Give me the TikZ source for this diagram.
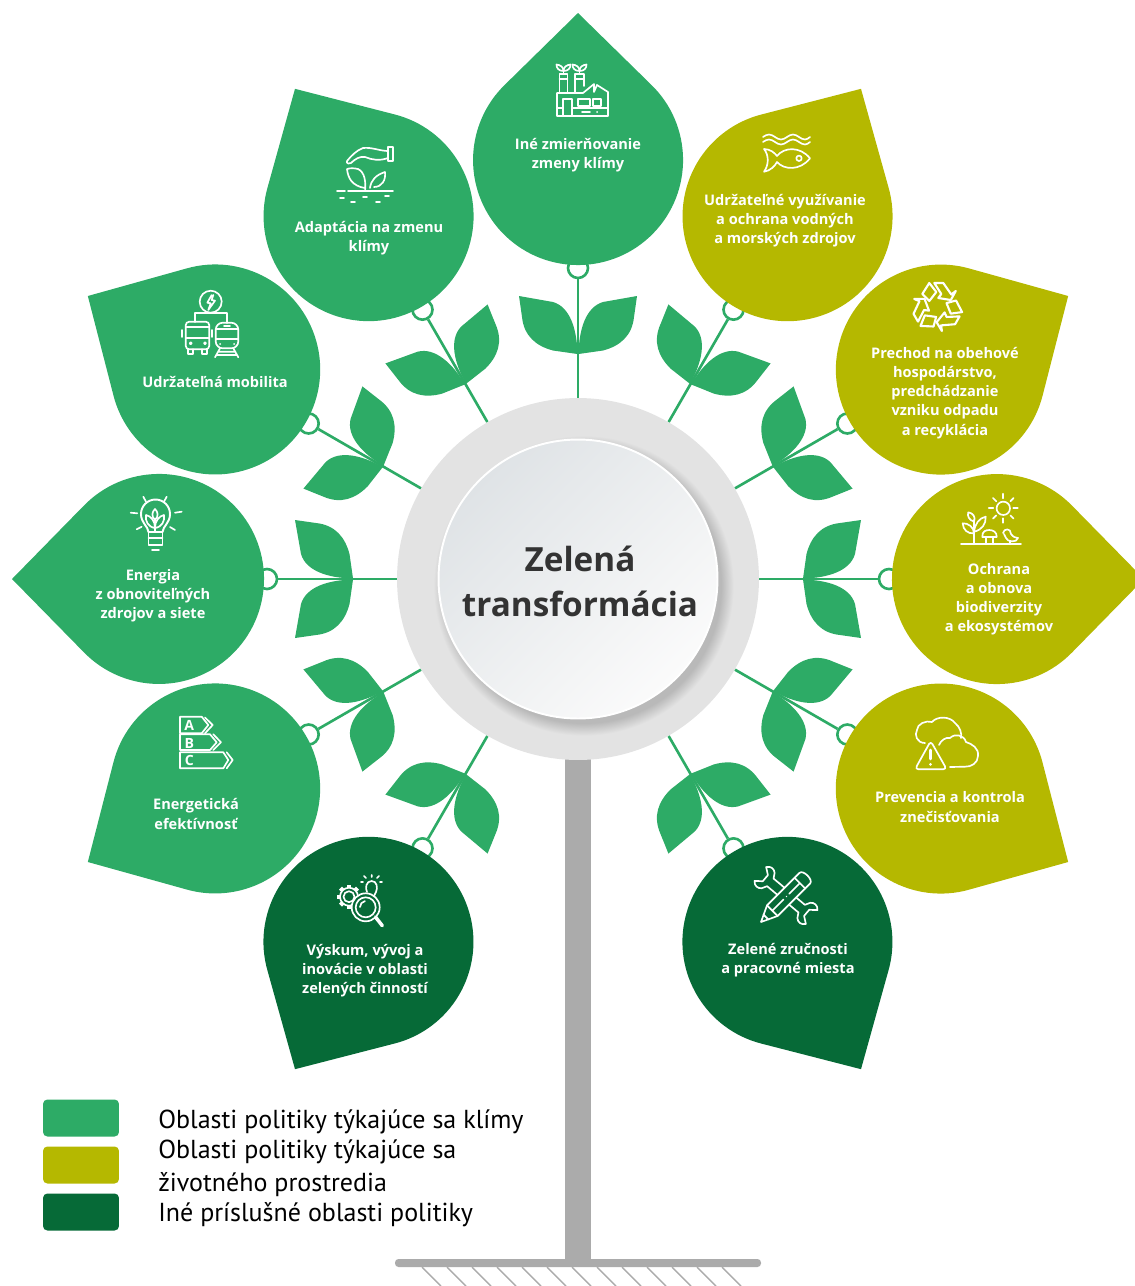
\documentclass[tikz,border=0pt]{standalone}
\usepackage{fontspec}
\setmainfont{PT Sans}
\newfontfamily\labelfont{Open Sans}
\definecolor{climate}{HTML}{2DAB66}
\definecolor{envir}{HTML}{B5B800}
\definecolor{other}{HTML}{066A37}
\definecolor{ringgray}{HTML}{E3E3E3}
\definecolor{polegray}{HTML}{ABABAB}
\definecolor{inkgray}{HTML}{333333}
\definecolor{hubdark}{HTML}{DFE3E6}
\definecolor{hublight}{HTML}{FBFBFB}
\tikzset{
  leaftext/.style={text=white,align=center,font=\fontsize{8.3}{10.9}\selectfont\labelfont\bfseries,inner sep=0pt},
  legendtext/.style={anchor=west,text=black,font=\fontsize{14.8}{15}\selectfont,inner sep=0pt},
  swatch/.style={rounded corners=2.5pt,minimum width=1.52cm,minimum height=.74cm,inner sep=0pt},
  icon/.style={draw=white,line width=.95pt,line join=round,line cap=round},
  sprout/.pic={
    \fill[climate] (.5,-225) .. controls (1,-250) and (8,-272) .. (25,-277) -- (59,-283) -- (56,-262) .. controls (54,-243) and (42,-233) .. (25,-228.5) -- cycle;
    \fill[climate] (-.5,-225) .. controls (-1,-250) and (-8,-272) .. (-25,-277) -- (-59,-283) -- (-56,-262) .. controls (-54,-243) and (-42,-233) .. (-25,-228.5) -- cycle;
  }
}
\begin{document}
\begin{tikzpicture}[x=0.02cm,y=-0.02cm]
\useasboundingbox (0,0) rectangle (1134,1286);

% trunk and ground
\foreach \hx in {422,447,...,722}
  \draw[polegray,line width=.8pt] (\hx,1267) -- ++(19,19);
\fill[polegray] (565,750) rectangle (591,1262);
\fill[polegray,rounded corners=2pt] (395,1259) rectangle (761,1267);

\node[circle,fill=ringgray,minimum size=7.24cm,inner sep=0pt] (ring) at (578,579) {};

% drops, sprouts, branches
\foreach \ang/\col/\n in {0/climate/a,30/climate/b,60/climate/c,90/climate/d,120/climate/e,150/other/f,
    -150/other/g,-120/envir/h,-90/envir/i,-60/envir/j,-30/envir/k}{
  \begin{scope}[shift={(578,579)},rotate=\ang]
    \node[circle,draw=climate,fill=white,line width=1.5pt,minimum size=.4cm,inner sep=0pt] (bud\n) at (0,-311) {};
    \draw[climate,line width=1.5pt] (ring) -- (bud\n);
    \pic[transform shape] {sprout};
    \fill[\col] (0,-566) -- (73,-494.5) arc[start angle=-46,end angle=226,radius=105] -- cycle;
  \end{scope}
}

% hub
\foreach \i in {0,...,13}
  \fill[black,opacity=.012] (584,586) circle ({138+\i*.9});
\node[circle,draw=white,line width=1.1pt,minimum size=5.58cm,inner sep=0pt,top color=hubdark,bottom color=hublight,shading angle=45] (hub) at (578,579) {};
\node[text=inkgray,align=center,font=\fontsize{18.95}{25.5}\selectfont\labelfont\bfseries,inner sep=0pt] (title) at (580,581) {Zelená\\transformácia};

% texts
\node[leaftext] (t1) at (578,155) {Iné zmierňovanie\\zmeny klímy};
\node[leaftext] (t2) at (369,238) {Adaptácia na zmenu\\klímy};
\node[leaftext] (t3) at (215,382) {Udržateľná mobilita};
\node[leaftext] (t4) at (153,596) {Energia\\z obnoviteľných\\zdrojov a siete};
\node[leaftext] (t5) at (196,814) {Energetická\\efektívnosť};
\node[leaftext] (t6) at (365,971) {Výskum, vývoj a\\inovácie v oblasti\\zelených činností};
\node[leaftext] (t7) at (788,960) {Zelené zručnosti\\a pracovné miesta};
\node[leaftext] (t8) at (950,807) {Prevencia a kontrola\\znečisťovania};
\node[leaftext] (t9) at (999,599) {Ochrana\\a obnova\\biodiverzity\\a ekosystémov};
\node[leaftext] (t10) at (945,393) {Prechod na obehové\\hospodárstvo,\\predchádzanie\\vzniku odpadu\\a recyklácia};
\node[leaftext] (t11) at (785,221) {Udržateľné využívanie\\a ochrana vodných\\a morských zdrojov};

% factory
\draw[icon] (557,116) -- (557,93) -- (583,93) -- (594,84) -- (594,92) -- (597,85) -- (608,92) -- (608,116) -- cycle;
\draw[icon] (559.5,93) -- (559.5,74) -- (567.5,74) -- (567.5,93) (559.5,79) -- (567.5,79);
\draw[icon] (575,93) -- (575,74) -- (584,74) -- (584,86) (575,79) -- (584,79);
\draw[icon] (562.7,116) -- (562.7,99) -- (571.7,99) -- (571.7,116);
\draw[icon] (578,99) rectangle (590,106) (593,99) rectangle (601,106);
\draw[icon] (557,108) -- (562,108) (572,108) -- (608,108) (582,112) -- (590,112) (597,112) -- (597.2,112);
\foreach \fx in {563.5,579.5}{
  \draw[icon] (\fx,74) -- (\fx,70);
  \draw[icon] (\fx,71) .. controls (\fx-5,71) and (\fx-7,68) .. (\fx-7,64.5) .. controls (\fx-3,65) and (\fx,67) .. (\fx,71);
  \draw[icon] (\fx,71) .. controls (\fx+5,71) and (\fx+7,68) .. (\fx+7,64.5) .. controls (\fx+3,65) and (\fx,67) .. (\fx,71);
}

% hand and plant
\draw[icon] (388,147) rectangle (393,161);
\draw[icon] (388,151) .. controls (380,151) and (372,147) .. (363,148) .. controls (357,150) and (351,156) .. (347,161) .. controls (346,164) and (350,164) .. (351,163) .. controls (355,159) and (360,156) .. (365,157) .. controls (372,160) and (380,161) .. (388,158);
\draw[icon] (365,191) .. controls (366,183) and (365,172) .. (358,169) .. controls (354,168) and (350,168) .. (347,169) .. controls (348,178) and (352,186) .. (365,188);
\draw[icon] (370,188) .. controls (371,180) and (376,175) .. (385,172) .. controls (386,180) and (382,187) .. (374,187);
\draw[icon] (348,191) -- (393,191) (337,191) -- (345,191) (340,198) -- (344,198) (351,202) -- (355,202) (363,197) -- (367,197) (376,202) -- (380,202) (385,196) -- (389,196);

% bus and train
\draw[icon] (210.7,301.7) circle (11);
\draw[icon] (211.7,295) -- (207.3,302.7) -- (210.7,303.3) -- (208.3,310) -- (215,300.7) -- (211.7,300) -- (213.3,295);
\draw[icon] (195,322) -- (195,313.3) -- (227.3,313.3) -- (227.3,323);
\draw[icon,rounded corners=2pt] (185.7,321.7) rectangle (209.3,349.3);
\draw[icon] (185.7,326.7) -- (209.3,326.7) (185.7,338.3) -- (209.3,338.3) (182.3,330) -- (182.3,337) (212.3,330) -- (212.3,337);
\draw[icon] (190.7,343.3) circle (1) (205,343.3) circle (1);
\draw[icon] (188,349.3) -- (188,354) -- (193,354) -- (193,349.3) (202,349.3) -- (202,354) -- (207,354) -- (207,349.3);
\draw[icon,rounded corners=4pt] (215.7,348.3) -- (215.7,322.7) -- (238.3,322.7) -- (238.3,348.3) -- cycle;
\draw[icon] (215.7,329) -- (238.3,329) (215.7,339) -- (238.3,339) (224,326) -- (230,326) (220,344) -- (220.2,344) (234,344) -- (234.2,344);
\draw[icon] (220,348.3) -- (215,357.3) (233.3,348.3) -- (238.3,357.3) (218,351.7) -- (235.5,351.7) (216.5,355) -- (237,355);

% bulb
\draw[icon,line width=1.1pt] (148.5,532) .. controls (148,526) and (141,523) .. (141,514) arc[start angle=180,end angle=360,radius=14.5] .. controls (170,523) and (163,526) .. (162.5,532) -- cycle;
\draw[icon,line width=1.1pt] (148.5,532) -- (148.5,545) -- (162.5,545) -- (162.5,532) (148.5,538) -- (162.5,538) (152,550) -- (159,550);
\draw[icon] (143.3,496.7) -- (146,501.7) (166.7,496.7) -- (164,501.7) (130.7,512.7) -- (137.3,513.3) (175,512.7) -- (181.7,511.7) (136.7,529.3) -- (141.7,526.7) (170,527) -- (175,530);
\draw[icon] (155,532) -- (155,520);
\draw[icon] (155,528) .. controls (148,527) and (145,521) .. (146,515) .. controls (151,516) and (155,521) .. (155,528);
\draw[icon] (155,528) .. controls (162,527) and (165,521) .. (164,515) .. controls (159,516) and (155,521) .. (155,528);
\draw[icon] (155,520) .. controls (151,516) and (152,512) .. (155,509) .. controls (158,512) and (159,516) .. (155,520);

% energy classes
\draw[icon] (180,733.3) -- (180,716.7) -- (201.7,716.7) -- (208.3,725) -- (201.7,733.3) -- cycle;
\draw[icon] (205,717.5) -- (212.7,725) -- (205,733.3);
\draw[icon] (180,734.3) -- (180,750) -- (210,750) -- (216.7,742.3) -- (210,734.3) -- cycle;
\draw[icon] (213.3,734.3) -- (221,742.3) -- (213.3,750);
\draw[icon] (180,752.3) -- (180,768.3) -- (223.3,768.3) -- (228.3,760) -- (223.3,752.3) -- cycle;
\draw[icon] (226.7,752.3) -- (232.7,760) -- (226.7,768.3);
\node[text=white,font=\fontsize{8}{8}\selectfont\labelfont\bfseries,inner sep=0pt] (classA) at (189.3,725.5) {A};
\node[text=white,font=\fontsize{8}{8}\selectfont\labelfont\bfseries,inner sep=0pt] (classB) at (189.3,743) {B};
\node[text=white,font=\fontsize{8}{8}\selectfont\labelfont\bfseries,inner sep=0pt] (classC) at (189.3,760.5) {C};

% gear, lens, lightbulb
\draw[icon] (349,896.7) circle (5.5) (349,896.7) circle (9);
\foreach \tooth in {0,45,...,315}
  \draw[white,line width=2.4pt] (349,896.7) ++(\tooth:9) -- ++(\tooth:3);
\draw[icon] (367,892) .. controls (365,888) and (366,881) .. (371.7,881) .. controls (377,881) and (378,888) .. (376,892) -- (373,898);
\draw[icon] (371.7,875) -- (371.7,877) (364,876) -- (366,878) (379,876) -- (377,878) (361,882) -- (363,882) (382,882) -- (380,882);
\fill[other] (365.7,907.3) circle (14);
\draw[icon] (365.7,907.3) circle (14) (365.7,907.3) circle (10);
\draw[icon] (360,907) arc[start angle=180,end angle=260,radius=6];
\draw[white,line width=2pt,line cap=round] (375.5,917) -- (382.3,925.7);

% wrench and pencil
\begin{scope}[shift={(786,895.5)},rotate=-40,xscale=.93]
  \draw[icon] (-22,-5) -- (22,-5) -- (25,-10) .. controls (28,-13) and (33,-13) .. (36,-9) -- (29,-4) -- (29,4) -- (36,9) .. controls (33,13) and (28,13) .. (25,10) -- (22,5) -- (-22,5) -- (-25,10) .. controls (-28,13) and (-33,13) .. (-36,9) -- (-29,4) -- (-29,-4) -- (-36,-9) .. controls (-33,-13) and (-28,-13) .. (-25,-10) -- cycle;
\end{scope}
\begin{scope}[shift={(761,922)},rotate=45]
  \fill[other] (0,0) -- (16,-7.5) -- (64,-7.5) -- (66,0) -- (64,7.5) -- (16,7.5) -- cycle;
  \draw[icon] (0,0) -- (16,-7.5) -- (62,-7.5) .. controls (67,-7.5) and (67,7.5) .. (62,7.5) -- (16,7.5) -- cycle;
  \draw[icon] (16,-7.5) -- (16,7.5) (55,-7.5) -- (55,7.5) (7,-3.5) -- (7,3.5) (16,0) -- (32,0) (36,0) -- (36.2,0) (40,0) -- (55,0);
\end{scope}

% clouds and warning
\draw[icon] (925,743) .. controls (917,743) and (914,735) .. (917,730) .. controls (917,724) and (926,720) .. (932,722) .. controls (937,716) and (950,716) .. (955,723) .. controls (960,727) and (962,733) .. (961,738);
\draw[icon] (939,745) .. controls (941,740) and (946,737) .. (950,738) .. controls (955,733) and (964,735) .. (966,742) .. controls (972,744) and (979,748) .. (978,756) .. controls (978,763) and (971,767) .. (965,766.7) -- (950,767);
\draw[icon,rounded corners=2pt] (930.7,741) -- (915,769.3) -- (946.7,769.3) -- cycle;
\draw[white,line width=1.6pt,line cap=round] (930.7,750) -- (930.7,759) (930.7,764.3) -- (930.7,764.5);

% sun, plant, mushroom, bird
\draw[icon] (961,544.3) -- (1021,544.3);
\draw[icon] (1003.3,508.3) circle (6.7);
\foreach \ray in {0,45,...,315}
  \draw[icon] (1003.3,508.3) ++(\ray:10) -- ++(\ray:4.5);
\draw[icon] (974,544.3) -- (974,520);
\draw[icon] (974,521.7) .. controls (969,520) and (967,516) .. (968.3,512.3) .. controls (973,513) and (976,517) .. (974,521.7);
\draw[icon] (974,533.3) .. controls (968,534) and (963,530) .. (962.7,523.3) .. controls (968,523) and (974,527) .. (974,533.3);
\draw[icon] (974,531.7) .. controls (975,524) and (979,518) .. (985.7,516.7) .. controls (986,524) and (982,530) .. (974,531.7);
\draw[icon] (982.3,537) .. controls (982,531) and (986,530) .. (989.3,530) .. controls (993,530) and (997,532) .. (996.7,537) -- cycle;
\draw[icon] (986,537) -- (986,544.3) (992.7,537) -- (992.7,544.3);
\draw[icon] (1003,533) .. controls (1004,528) and (1011,528) .. (1011,534) .. controls (1013,537) and (1016,538) .. (1018,538) .. controls (1017,543) and (1007,542) .. (1006,538) -- (1004,534);
\draw[icon] (1010,541) -- (1010,544.3);

% recycling arrows
\foreach \rot in {0,120,240}{
  \begin{scope}[shift={(937.3,307)},rotate=\rot]
    \draw[icon,line width=1.2pt] (-15,-13) -- (-8,-24) -- (-1,-15) -- (-8,-6) -- cycle;
    \draw[icon,line width=1.2pt] (-3,-24) -- (6,-24) -- (14,-12.5) -- (18.5,-16) -- (13.5,-7) -- (1,-9) -- (4,-13) -- cycle;
  \end{scope}
}

% waves and fish
\foreach \wy in {137,142}
  \draw[icon] (763,\wy) sin (769,\wy-2.5) cos (775,\wy) sin (781,\wy+2.5) cos (787,\wy) sin (793,\wy-2.5) cos (799,\wy) sin (805,\wy+2.5) cos (810,\wy);
\draw[icon] (764,149) .. controls (770,149) and (775,153) .. (777,156) .. controls (784,147) and (800,146) .. (810,158.3) .. controls (800,171) and (784,170) .. (777,162) .. controls (775,166) and (770,171) .. (764,171.7) .. controls (769,165) and (769,155) .. (764,149) -- cycle;
\draw[icon] (799,158.3) circle (2.7);

% legend
\node[swatch,fill=climate] (keyA) at (81,1118) {};
\node[swatch,fill=envir] (keyB) at (81,1165) {};
\node[swatch,fill=other] (keyC) at (81,1212) {};
\node[legendtext] (keytextA) at (158,1122) {Oblasti politiky týkajúce sa klímy};
\node[legendtext] (keytextB) at (158,1152) {Oblasti politiky týkajúce sa};
\node[legendtext] (keytextBb) at (158,1185) {životného prostredia};
\node[legendtext] (keytextC) at (158,1215) {Iné príslušné oblasti politiky};
\end{tikzpicture}
\end{document}
